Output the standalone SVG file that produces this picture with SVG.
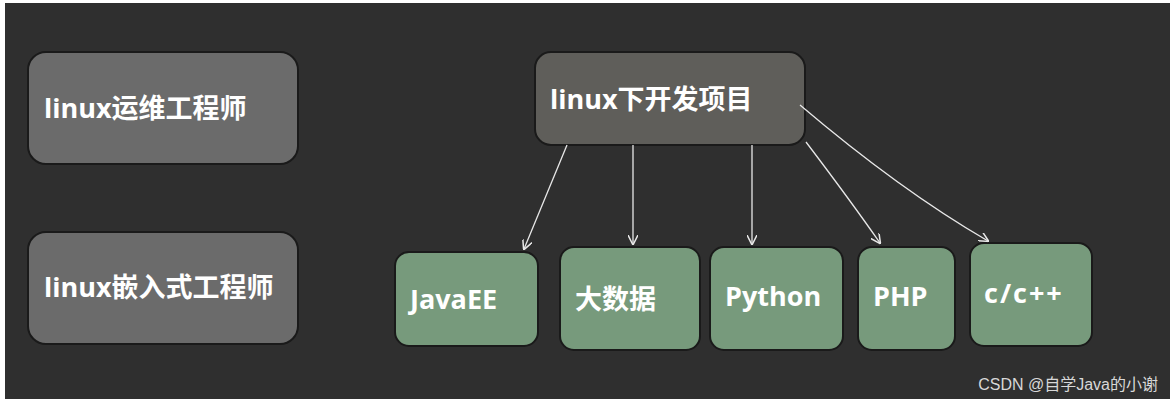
<svg xmlns="http://www.w3.org/2000/svg" width="1174" height="403" viewBox="0 0 1174 403">
<style>
.g{fill:#6b6b6b;stroke:#1a1a1a;stroke-width:2}
.d{fill:#5f5e5a;stroke:#1a1a1a;stroke-width:2}
.v{fill:#779a7c;stroke:#1a1a1a;stroke-width:2}
.t{font-family:"Open Sans","Noto Sans CJK SC",sans-serif;font-weight:bold;font-size:27px;fill:#fff}
.c{fill:none;stroke:#e8e8e8;stroke-width:1.3;marker-end:url(#a)}
</style>
<defs><marker id="a" markerWidth="10" markerHeight="10" refX="9" refY="5" orient="auto" markerUnits="userSpaceOnUse"><path d="M0,0 L10,5 L0,10" fill="none" stroke="#e8e8e8" stroke-width="1.5"/></marker></defs>
<rect width="1174" height="403" fill="#fff"/>
<rect x="5" y="3" width="1165" height="396" fill="#2f2f2f"/>
<g id="n1"><rect class="g" x="28" y="52" width="270" height="112" rx="18"/><text class="t" x="44" y="118">linux运维工程师</text></g>
<g id="n2"><rect class="g" x="28" y="232" width="270" height="112" rx="18"/><text class="t" x="44" y="297">linux嵌入式工程师</text></g>
<g id="n3"><rect class="d" x="535" y="52" width="270" height="93" rx="16"/><text class="t" x="550" y="109">linux下开发项目</text></g>
<g id="n4"><rect class="v" x="395" y="252" width="143" height="94" rx="14"/><text class="t" x="410" y="309">JavaEE</text></g>
<g id="n5"><rect class="v" x="560" y="247" width="140" height="103" rx="14"/><text class="t" x="575" y="309">大数据</text></g>
<g id="n6"><rect class="v" x="710" y="247" width="133" height="103" rx="14"/><text class="t" x="725" y="306">Python</text></g>
<g id="n7"><rect class="v" x="858" y="247" width="97" height="103" rx="14"/><text class="t" x="873" y="306">PHP</text></g>
<g id="n8"><rect class="v" x="970" y="243" width="122" height="103" rx="14"/><text class="t" x="984" y="303" letter-spacing="2">c/c++</text></g>
<g id="edges">
<path class="c" d="M567,145 L524,249"/>
<path class="c" d="M633,145 L633,244"/>
<path class="c" d="M752,145 L752,244"/>
<path class="c" d="M806,142 Q850,200 880,243"/>
<path class="c" d="M800,105 Q900,190 988,241"/>
</g>
<text x="1158" y="390" text-anchor="end" font-family="Liberation Sans,'Noto Sans CJK SC',sans-serif" font-size="16" fill="#d8d8d8">CSDN @自学Java的小谢</text>
</svg>
